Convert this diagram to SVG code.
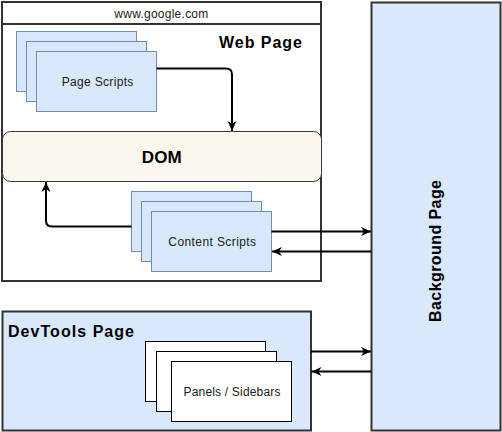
<svg xmlns="http://www.w3.org/2000/svg" width="502" height="432" viewBox="0 0 502 432">
<defs>
<marker id="arr" markerUnits="userSpaceOnUse" markerWidth="12" markerHeight="10" refX="10" refY="4.5" orient="auto" overflow="visible">
<path d="M0,0 L10,4.5 L0,9 L3,4.5 Z" fill="#000"/>
</marker>
<style>
.frame{fill:#fff;stroke:#333;stroke-width:2}
.blue{fill:#dae8fc;stroke:#6c8ebf;stroke-width:1}
.bluebox{fill:#dae8fc;stroke:#333;stroke-width:2}
.white{fill:#fff;stroke:#000;stroke-width:1}
.dom{fill:#f9f7ed;stroke:#36393d;stroke-width:1}
.lbl{font-family:"Liberation Sans",Arial,sans-serif;font-size:12px;fill:#1a1a1a;text-anchor:middle}
.title{font-family:"Liberation Sans",Arial,sans-serif;font-size:16px;font-weight:bold;fill:#000}
.conn{fill:none;stroke:#000;stroke-width:2}
</style>
</defs>
<g id="web-page">
<rect class="frame" x="2" y="2" width="319" height="279"/>
<line x1="2" y1="24" x2="321" y2="24" stroke="#333" stroke-width="2"/>
<text class="lbl" x="161.3" y="18" textLength="94" lengthAdjust="spacing">www.google.com</text>
<text class="title" x="219" y="48" textLength="83" lengthAdjust="spacing">Web Page</text>
</g>
<g id="page-scripts">
<rect class="blue" x="16.5" y="31.5" width="120" height="60"/>
<rect class="blue" x="26.5" y="41.5" width="120" height="60"/>
<rect class="blue" x="36.5" y="51.5" width="120" height="60"/>
<text class="lbl" x="97.5" y="86" textLength="71.6" lengthAdjust="spacing">Page Scripts</text>
</g>
<g id="dom">
<rect class="dom" x="2.5" y="131.5" width="319" height="50" rx="8" ry="8"/>
<text class="title" x="161.7" y="163" text-anchor="middle" style="font-size:17px" textLength="40" lengthAdjust="spacing">DOM</text>
</g>
<g id="content-scripts">
<rect class="blue" x="131.5" y="191.5" width="120" height="60"/>
<rect class="blue" x="141.5" y="201.5" width="120" height="60"/>
<rect class="blue" x="151.5" y="211.5" width="120" height="60"/>
<text class="lbl" x="212.2" y="246" textLength="87.7" lengthAdjust="spacing">Content Scripts</text>
</g>
<g id="background-page">
<rect class="bluebox" x="371.5" y="2.5" width="129" height="428"/>
<text class="title" transform="translate(441,251) rotate(-90)" x="0" y="0" text-anchor="middle" textLength="142" lengthAdjust="spacing">Background Page</text>
</g>
<g id="devtools-page">
<rect class="bluebox" x="2.5" y="311.5" width="308.5" height="119"/>
<text class="title" x="8" y="337" textLength="126" lengthAdjust="spacing">DevTools Page</text>
</g>
<g id="panels-sidebars">
<rect class="white" x="145.5" y="341.5" width="120" height="60"/>
<rect class="white" x="156.5" y="351.5" width="120" height="60"/>
<rect class="white" x="171.5" y="361.5" width="120" height="60"/>
<text class="lbl" x="232" y="396" textLength="97" lengthAdjust="spacing">Panels / Sidebars</text>
</g>
<g id="connectors">
<path class="conn" d="M156.5,68.5 H226 Q232,68.5 232,74.5 V131" marker-end="url(#arr)"/>
<path class="conn" d="M131.5,226.5 H52 Q46,226.5 46,220.5 V182" marker-end="url(#arr)"/>
<path class="conn" d="M271.5,231.5 H371" marker-end="url(#arr)"/>
<path class="conn" d="M371,251.5 H272" marker-end="url(#arr)"/>
<path class="conn" d="M311,351.5 H371" marker-end="url(#arr)"/>
<path class="conn" d="M371,371.5 H311.5" marker-end="url(#arr)"/>
</g>
</svg>
